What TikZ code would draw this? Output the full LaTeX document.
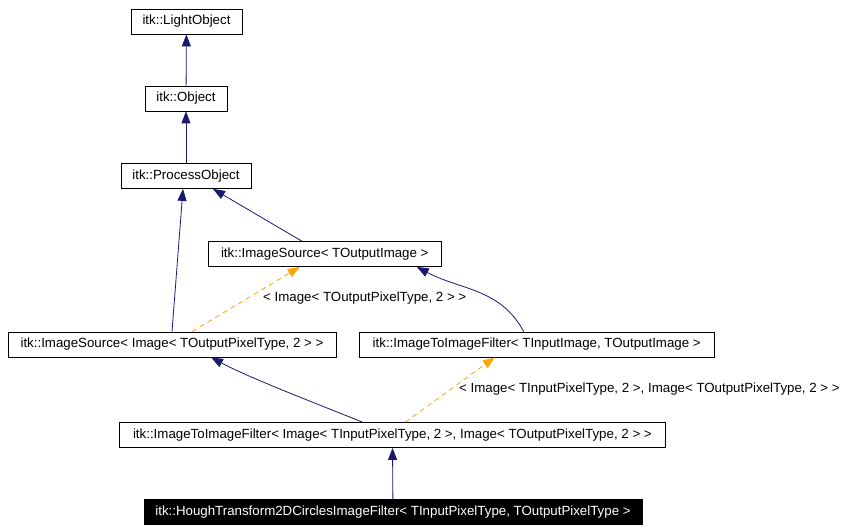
\documentclass[tikz,border=0pt]{standalone}
\usepackage{fontspec}
\setmainfont{Liberation Sans}
\usetikzlibrary{arrows.meta}
\definecolor{inhblue}{HTML}{191970}
\definecolor{tmplorange}{HTML}{FFA500}
\tikzset{
  cls/.style={draw=black,line width=0.8pt,minimum height=25pt,inner sep=0pt,
    font=\fontsize{13.3}{15}\selectfont},
  inherit/.style={-{Triangle[length=12pt,width=9pt]},inhblue,line width=0.8pt},
  tmpl/.style={-{Triangle[length=12pt,width=9pt]},tmplorange,line width=0.8pt,
    dash pattern=on 5pt off 4pt},
  tmpltext/.style={font=\fontsize{13.3}{15}\selectfont,inner sep=0pt}
}

\begin{document}
\begin{tikzpicture}[x=1pt,y=1pt]
\useasboundingbox (0,0) rectangle (844,-532);
\node[cls,minimum width=111pt] (light) at (186.5,-21.5) {itk::LightObject};
\node[cls,minimum width=82pt] (obj) at (186,-98.5) {itk::Object};
\node[cls,minimum width=130pt] (proc) at (186,-176) {itk::ProcessObject};
\node[cls,minimum width=233pt] (srcout) at (324.75,-254) {itk::ImageSource< TOutputImage >};
\node[cls,minimum width=328pt] (srcimg) at (172,-344.5) {itk::ImageSource< Image< TOutputPixelType, 2 > >};
\node[cls,minimum width=355pt] (filtio) at (536.7,-344.5) {itk::ImageToImageFilter< TInputImage, TOutputImage >};
\node[cls,minimum width=546pt] (filtimg) at (392.4,-435) {itk::ImageToImageFilter< Image< TInputPixelType, 2 >, Image< TOutputPixelType, 2 > >};
\node[cls,minimum width=498pt,fill=black,text=white] (hough) at (393,-512) {itk::HoughTransform2DCirclesImageFilter< TInputPixelType, TOutputPixelType >};
\node[tmpltext,anchor=west] (lblsrc) at (263,-298) {< Image< TOutputPixelType, 2 > >};
\node[tmpltext,anchor=west] (lblfilt) at (459,-389) {< Image< TInputPixelType, 2 >, Image< TOutputPixelType, 2 > >};

\draw[inherit] (obj) -- (light);
\draw[inherit] (proc) -- (obj);
\draw[inherit] (srcimg.north) -- ([xshift=-3pt]proc.south);
\draw[inherit] ([xshift=-23pt]srcout.north) -- ([xshift=27pt]proc.south);
\draw[tmpl] ([xshift=20pt]srcimg.north) -- ([xshift=-25pt]srcout.south);
\draw[inherit] ([xshift=-13pt]filtio.north) to[out=118,in=-28] ([xshift=92pt]srcout.south);
\draw[inherit] ([xshift=-30pt]filtimg.north) to[out=158,in=-28,looseness=0.7] ([xshift=39pt]srcimg.south);
\draw[tmpl] ([xshift=13pt]filtimg.north) -- ([xshift=-42pt]filtio.south);
\draw[inherit] (hough) -- (filtimg);
\end{tikzpicture}
\end{document}
